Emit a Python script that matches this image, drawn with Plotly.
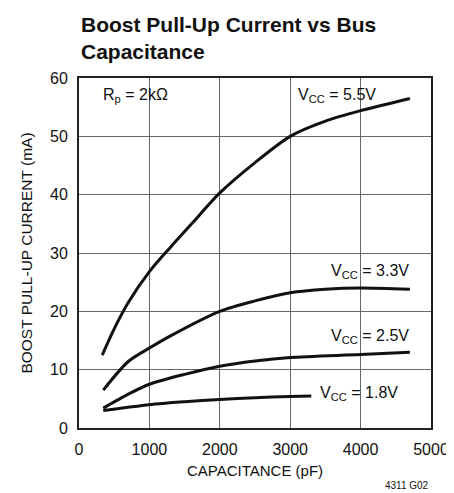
import plotly.graph_objects as go

# Data
cap_55 = [330, 500, 700, 1000, 1300, 1600, 2000, 2500, 3000, 3500, 4000, 4700]
cur_55 = [12.5, 17.0, 21.5, 26.8, 31.0, 35.0, 40.3, 45.5, 50.0, 52.6, 54.4, 56.5]

cap_33 = [345, 700, 1000, 1300, 2000, 2500, 3000, 3500, 4000, 4700]
cur_33 = [6.5, 11.4, 13.7, 15.8, 20.0, 21.8, 23.2, 23.8, 24.0, 23.8]

cap_25 = [345, 700, 1000, 1500, 2000, 2500, 3000, 4000, 4700]
cur_25 = [3.4, 5.8, 7.5, 9.2, 10.6, 11.5, 12.1, 12.6, 13.0]

cap_18 = [345, 1000, 1500, 2000, 2500, 3000, 3300]
cur_18 = [3.0, 4.0, 4.5, 4.9, 5.2, 5.4, 5.5]

x_ticks = [0, 1000, 2000, 3000, 4000, 5000]
y_ticks = [0, 10, 20, 30, 40, 50, 60]

FONT = "Liberation Sans, Arial, sans-serif"
INK = "#111111"

fig = go.Figure()
for xs, ys in [(cap_55, cur_55), (cap_33, cur_33), (cap_25, cur_25), (cap_18, cur_18)]:
    fig.add_trace(go.Scatter(x=xs, y=ys, mode="lines",
                             line=dict(color=INK, width=3, shape="spline", smoothing=0.8),
                             showlegend=False, hoverinfo="skip"))

annots = [
    dict(x=313, y=57, text="R<sub>p</sub> = 2kΩ", xanchor="left"),
    dict(x=3082, y=57, text="V<sub>CC</sub> = 5.5V", xanchor="left"),
    dict(x=4716, y=26.8, text="V<sub>CC</sub> = 3.3V", xanchor="right"),
    dict(x=4716, y=15.7, text="V<sub>CC</sub> = 2.5V", xanchor="right"),
    dict(x=3395, y=5.9, text="V<sub>CC</sub> = 1.8V", xanchor="left"),
]
for a in annots:
    fig.add_annotation(x=a["x"], y=a["y"], text=a["text"], xanchor=a["xanchor"],
                       yanchor="middle", showarrow=False,
                       font=dict(family=FONT, size=16, color=INK))

# Title (two lines, left aligned above the plot)
fig.add_annotation(xref="paper", yref="paper", x=0, y=1 + 13/350,
                   text="<b>Boost Pull-Up Current vs Bus<br>Capacitance</b>",
                   showarrow=False, xanchor="left", yanchor="bottom", align="left",
                   font=dict(family=FONT, size=21, color=INK))

fig.add_annotation(xref="paper", yref="paper", x=1.0, y=-50/350, text="4311 G02",
                   showarrow=False, xanchor="right", yanchor="top",
                   font=dict(family=FONT, size=10, color=INK))

fig.update_layout(
    width=454, height=493,
    margin=dict(l=71, r=31, t=70, b=73),
    paper_bgcolor="white", plot_bgcolor="white",
    font=dict(family=FONT, color=INK),
    xaxis=dict(range=[0, 5000], tickvals=x_ticks, ticks="", showgrid=True,
               gridcolor="#666666", gridwidth=1.3, showline=True, linecolor="#222222",
               linewidth=2, mirror=True, zeroline=False, ticklabelstandoff=6,
               tickfont=dict(size=16), title=dict(text="CAPACITANCE (pF)", font=dict(size=15), standoff=8)),
    yaxis=dict(range=[0, 60], tickvals=y_ticks, ticks="", showgrid=True,
               gridcolor="#666666", gridwidth=1.3, showline=True, linecolor="#222222",
               linewidth=2, mirror=True, zeroline=False, ticklabelstandoff=6,
               tickfont=dict(size=16), title=dict(text="BOOST PULL-UP CURRENT (mA)", font=dict(size=15.5), standoff=14)),
)

fig.write_html("out.html")
